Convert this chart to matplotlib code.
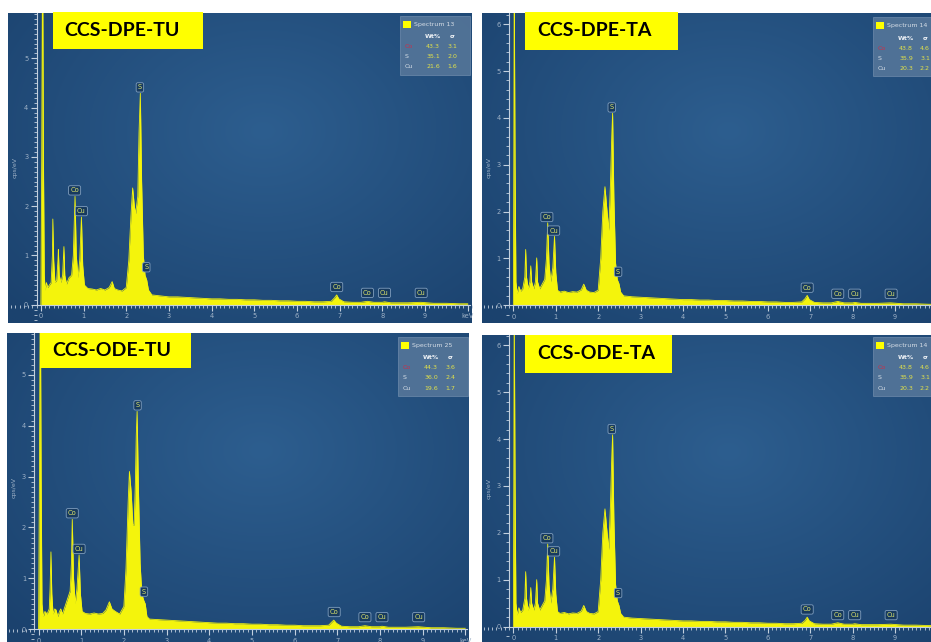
import numpy as np
import matplotlib
matplotlib.use("Agg")
import matplotlib.pyplot as plt
from matplotlib.patches import Rectangle
from matplotlib.ticker import MultipleLocator

# ---- data ----
samples = ["CCS-DPE-TU", "CCS-DPE-TA", "CCS-ODE-TU", "CCS-ODE-TA"]
spectrum_ids = ["Spectrum 13", "Spectrum 14", "Spectrum 25", "Spectrum 14"]
elements = ["Co", "S", "Cu"]

wt_dpe_tu, sig_dpe_tu = [43.3, 35.1, 21.6], [3.1, 2.0, 1.6]
wt_dpe_ta, sig_dpe_ta = [43.8, 35.9, 20.3], [4.6, 3.1, 2.2]
wt_ode_tu, sig_ode_tu = [44.3, 36.0, 19.6], [3.6, 2.4, 1.7]
wt_ode_ta, sig_ode_ta = [43.8, 35.9, 20.3], [4.6, 3.1, 2.2]

peak_names = ["Co", "Cu", "S", "S", "Co", "Co", "Cu", "Cu"]
peak_kev = [0.79, 0.95, 2.32, 2.47, 6.93, 7.65, 8.05, 8.91]

# (keV, cps/eV)
spec_dpe_tu = [
    (0.00, 0.0), (0.02, 3.0), (0.04, 7.5), (0.06, 3.0), (0.08, 0.6), (0.10, 0.30),
    (0.13, 0.45), (0.16, 0.35), (0.20, 0.40), (0.24, 0.45), (0.27, 1.00), (0.28, 1.74),
    (0.30, 0.90), (0.33, 0.45), (0.37, 0.50), (0.40, 0.90), (0.41, 1.12), (0.43, 0.60),
    (0.47, 0.45), (0.51, 0.60), (0.54, 1.18), (0.56, 0.60), (0.60, 0.42), (0.66, 0.55),
    (0.72, 0.60), (0.76, 1.00), (0.80, 2.20), (0.83, 1.00), (0.87, 0.55), (0.91, 0.90),
    (0.95, 1.78), (0.98, 0.80), (1.02, 0.40), (1.10, 0.33), (1.20, 0.32), (1.30, 0.30),
    (1.40, 0.33), (1.50, 0.30), (1.60, 0.35), (1.67, 0.47), (1.72, 0.33), (1.80, 0.30),
    (1.90, 0.28), (2.00, 0.35), (2.06, 0.90), (2.11, 1.80), (2.15, 2.37), (2.19, 2.00),
    (2.22, 1.85), (2.27, 2.20), (2.30, 3.50), (2.33, 4.29), (2.36, 2.50), (2.40, 1.00),
    (2.44, 0.60), (2.48, 0.50), (2.52, 0.30), (2.60, 0.20), (2.80, 0.18), (3.00, 0.16),
    (3.20, 0.16), (3.40, 0.15), (3.60, 0.14), (3.80, 0.13), (4.00, 0.12), (4.20, 0.12),
    (4.40, 0.11), (4.60, 0.11), (4.80, 0.10), (5.00, 0.10), (5.20, 0.09), (5.40, 0.09),
    (5.60, 0.08), (5.80, 0.08), (6.00, 0.07), (6.20, 0.07), (6.40, 0.06), (6.60, 0.06),
    (6.80, 0.07), (6.88, 0.14), (6.93, 0.20), (6.98, 0.12), (7.10, 0.06), (7.30, 0.05),
    (7.50, 0.05), (7.65, 0.07), (7.80, 0.05), (8.00, 0.05), (8.05, 0.06), (8.20, 0.04),
    (8.40, 0.04), (8.60, 0.04), (8.90, 0.05), (9.20, 0.03), (9.50, 0.03), (9.80, 0.02),
    (10.00, 0.02),
]

spec_dpe_ta = [
    (0.00, 0.0), (0.01, 3.0), (0.02, 7.0), (0.04, 3.0), (0.06, 0.5), (0.09, 0.25),
    (0.13, 0.40), (0.17, 0.30), (0.22, 0.35), (0.27, 0.60), (0.29, 1.19), (0.31, 0.60),
    (0.35, 0.35), (0.39, 0.50), (0.41, 0.84), (0.43, 0.50), (0.48, 0.35), (0.52, 0.50),
    (0.55, 1.01), (0.57, 0.50), (0.62, 0.35), (0.68, 0.45), (0.74, 0.55), (0.78, 1.00),
    (0.81, 1.76), (0.84, 0.90), (0.88, 0.50), (0.93, 0.80), (0.97, 1.47), (1.00, 0.70),
    (1.04, 0.32), (1.10, 0.28), (1.20, 0.30), (1.30, 0.27), (1.40, 0.29), (1.50, 0.28),
    (1.60, 0.33), (1.66, 0.45), (1.72, 0.32), (1.80, 0.28), (1.90, 0.27), (2.00, 0.32),
    (2.06, 1.00), (2.11, 2.00), (2.16, 2.53), (2.20, 2.10), (2.25, 1.60), (2.29, 2.60),
    (2.32, 3.60), (2.34, 4.10), (2.37, 2.30), (2.41, 0.90), (2.45, 0.55), (2.49, 0.46),
    (2.53, 0.28), (2.60, 0.20), (2.80, 0.18), (3.00, 0.17), (3.20, 0.16), (3.40, 0.15),
    (3.60, 0.14), (3.80, 0.13), (4.00, 0.12), (4.20, 0.12), (4.40, 0.11), (4.60, 0.11),
    (4.80, 0.10), (5.00, 0.10), (5.20, 0.09), (5.40, 0.09), (5.60, 0.08), (5.80, 0.08),
    (6.00, 0.07), (6.20, 0.07), (6.40, 0.06), (6.60, 0.06), (6.80, 0.07), (6.88, 0.14),
    (6.93, 0.21), (6.98, 0.12), (7.10, 0.06), (7.30, 0.05), (7.50, 0.05), (7.65, 0.08),
    (7.80, 0.05), (8.00, 0.05), (8.05, 0.06), (8.20, 0.04), (8.40, 0.04), (8.60, 0.04),
    (8.90, 0.05), (9.20, 0.03), (9.50, 0.03), (9.80, 0.02), (10.00, 0.02),
]

spec_ode_tu = [
    (0.00, 0.0), (0.02, 3.0), (0.04, 7.0), (0.06, 3.0), (0.08, 0.5), (0.11, 0.25),
    (0.15, 0.35), (0.20, 0.30), (0.25, 0.40), (0.27, 0.80), (0.29, 1.52), (0.31, 0.70),
    (0.34, 0.30), (0.38, 0.40), (0.41, 0.38), (0.45, 0.25), (0.49, 0.35), (0.52, 0.40),
    (0.56, 0.30), (0.62, 0.45), (0.68, 0.60), (0.74, 0.75), (0.77, 1.30), (0.79, 2.16),
    (0.82, 1.00), (0.86, 0.51), (0.90, 0.80), (0.95, 1.46), (0.98, 0.70), (1.02, 0.35),
    (1.10, 0.31), (1.20, 0.30), (1.30, 0.32), (1.40, 0.30), (1.50, 0.31), (1.58, 0.38),
    (1.66, 0.54), (1.72, 0.40), (1.80, 0.35), (1.90, 0.30), (2.00, 0.45), (2.05, 1.20),
    (2.10, 2.50), (2.13, 3.10), (2.17, 2.70), (2.21, 2.05), (2.24, 2.05), (2.27, 2.90),
    (2.29, 3.80), (2.31, 4.28), (2.34, 2.80), (2.38, 1.30), (2.42, 0.70), (2.46, 0.58),
    (2.50, 0.50), (2.54, 0.25), (2.60, 0.20), (2.80, 0.19), (3.00, 0.18), (3.20, 0.17),
    (3.40, 0.16), (3.60, 0.15), (3.80, 0.14), (4.00, 0.13), (4.20, 0.12), (4.40, 0.12),
    (4.60, 0.11), (4.80, 0.11), (5.00, 0.10), (5.20, 0.10), (5.40, 0.09), (5.60, 0.09),
    (5.80, 0.08), (6.00, 0.08), (6.20, 0.07), (6.40, 0.07), (6.60, 0.07), (6.80, 0.08),
    (6.87, 0.14), (6.92, 0.18), (6.98, 0.12), (7.10, 0.06), (7.30, 0.05), (7.50, 0.05),
    (7.65, 0.07), (7.80, 0.05), (8.00, 0.05), (8.05, 0.06), (8.20, 0.04), (8.40, 0.04),
    (8.60, 0.04), (8.90, 0.05), (9.20, 0.03), (9.50, 0.03), (9.80, 0.02), (10.00, 0.02),
]

spec_ode_ta = [
    (0.00, 0.0), (0.01, 3.0), (0.02, 7.0), (0.04, 3.0), (0.06, 0.5), (0.09, 0.25),
    (0.13, 0.40), (0.17, 0.30), (0.22, 0.35), (0.27, 0.60), (0.29, 1.17), (0.31, 0.60),
    (0.35, 0.35), (0.39, 0.50), (0.41, 0.83), (0.43, 0.50), (0.48, 0.35), (0.52, 0.50),
    (0.55, 1.00), (0.57, 0.50), (0.62, 0.35), (0.68, 0.45), (0.74, 0.55), (0.78, 1.00),
    (0.81, 1.76), (0.84, 0.90), (0.88, 0.50), (0.93, 0.80), (0.97, 1.48), (1.00, 0.70),
    (1.04, 0.32), (1.10, 0.28), (1.20, 0.30), (1.30, 0.27), (1.40, 0.29), (1.50, 0.28),
    (1.60, 0.33), (1.66, 0.45), (1.72, 0.32), (1.80, 0.28), (1.90, 0.27), (2.00, 0.32),
    (2.06, 1.00), (2.11, 2.00), (2.16, 2.51), (2.20, 2.10), (2.25, 1.64), (2.29, 2.60),
    (2.32, 3.60), (2.34, 4.09), (2.37, 2.30), (2.41, 0.90), (2.45, 0.55), (2.49, 0.45),
    (2.53, 0.28), (2.60, 0.20), (2.80, 0.18), (3.00, 0.17), (3.20, 0.16), (3.40, 0.15),
    (3.60, 0.14), (3.80, 0.13), (4.00, 0.12), (4.20, 0.12), (4.40, 0.11), (4.60, 0.11),
    (4.80, 0.10), (5.00, 0.10), (5.20, 0.09), (5.40, 0.09), (5.60, 0.08), (5.80, 0.08),
    (6.00, 0.07), (6.20, 0.07), (6.40, 0.06), (6.60, 0.06), (6.80, 0.07), (6.88, 0.13),
    (6.93, 0.20), (6.98, 0.12), (7.10, 0.06), (7.30, 0.05), (7.50, 0.05), (7.65, 0.08),
    (7.80, 0.05), (8.00, 0.05), (8.05, 0.06), (8.20, 0.04), (8.40, 0.04), (8.60, 0.04),
    (8.90, 0.05), (9.20, 0.03), (9.50, 0.03), (9.80, 0.02), (10.00, 0.02),
]

spectra = [spec_dpe_tu, spec_dpe_ta, spec_ode_tu, spec_ode_ta]
wts = [wt_dpe_tu, wt_dpe_ta, wt_ode_tu, wt_ode_ta]
sigs = [sig_dpe_tu, sig_dpe_ta, sig_ode_tu, sig_ode_ta]

# ---- layout (pixels in the 931x642 picture) ----
W, H = 931, 642
panel_px = [(8, 13, 472, 323), (482, 13, 931, 323), (7, 333, 469, 642), (482, 335, 931, 642)]
xlims = [(-0.77, 10.1), (-0.74, 9.85), (-0.74, 10.09), (-0.74, 9.85)]
ylims = [(-0.37, 5.92), (-0.38, 6.24), (-0.25, 5.82), (-0.33, 6.22)]
ytop = [5, 6, 5, 6]
title_px = [(53, 12, 203, 49, 64), (525, 12, 678, 50, 537), (40, 333, 191, 368, 52), (525, 335, 672, 373, 537)]
legend_px = [(400, 16), (873, 17), (398, 337), (873, 337)]

YELLOW = "#f4f40c"
AXCOL = "#c3d0de"
LABCOL = "#9fb2c7"


def fx(x):
    return x / W


def fy(y):
    return 1 - y / H


fig = plt.figure(figsize=(9.31, 6.42), dpi=100, facecolor="white")

gx, gy = np.meshgrid(np.linspace(0, 1, 300), np.linspace(0, 1, 300))
r = np.clip(np.sqrt((gx - 0.55) ** 2 + ((gy - 0.62) * 0.9) ** 2) / 0.75, 0, 1)
c_in = np.array([0x2d, 0x5e, 0x8f]) / 255
c_out = np.array([0x1b, 0x42, 0x6e]) / 255
bg = c_in[None, None, :] * (1 - r[..., None]) + c_out[None, None, :] * r[..., None]

for i in range(4):
    l, t, rr, b = panel_px[i]
    ax = fig.add_axes([fx(l), fy(b), (rr - l) / W, (b - t) / H])
    x0, x1 = xlims[i]
    y0, y1 = ylims[i]
    ax.imshow(bg, extent=[x0, x1, y0, y1], origin="lower", aspect="auto", zorder=0)

    kev = np.array([p[0] for p in spectra[i]])
    cps = np.array([p[1] for p in spectra[i]])
    ax.fill_between(kev, 0, cps, color=YELLOW, lw=0, zorder=2)
    ax.plot(kev, cps, color=YELLOW, lw=0.6, zorder=2)

    ax.set_xlim(x0, x1)
    ax.set_ylim(y0, y1)

    for s in ["top", "right"]:
        ax.spines[s].set_visible(False)
    ax.spines["left"].set_position(("data", -0.1))
    ax.spines["bottom"].set_position(("data", 0))
    ax.spines["left"].set_bounds(0, y1)
    ax.spines["bottom"].set_bounds(-0.1, min(10.05, x1))
    for s in ["left", "bottom"]:
        ax.spines[s].set_color(AXCOL)
        ax.spines[s].set_linewidth(0.8)

    nt = 11 if x1 > 10 else 10
    ax.set_xticks(range(nt))
    ax.set_xticklabels([str(k) for k in range(10)] + ["keV"] * (nt - 10))
    ax.set_yticks(range(ytop[i] + 1))
    ax.xaxis.set_minor_locator(MultipleLocator(0.1))
    ax.yaxis.set_minor_locator(MultipleLocator(0.1 if ytop[i] == 5 else 0.2))
    ax.tick_params(which="major", direction="out", length=4, width=0.8, color=AXCOL,
                   labelsize=4.8, labelcolor=LABCOL, pad=2)
    ax.tick_params(which="minor", direction="out", length=2, width=0.6, color=AXCOL)

    ax.text(0.016, 0.5, "cps/eV", transform=ax.transAxes, rotation=90, fontsize=4.5,
            color=LABCOL, ha="center", va="center")

    # peak labels sit just above the local maximum
    for name, e in zip(peak_names, peak_kev):
        near = (kev > e - 0.035) & (kev < e + 0.035)
        yl = cps[near].max() if near.any() else np.interp(e, kev, cps)
        if yl < 1:
            yl = max(yl, 0.08) + 0.1
        else:
            yl = yl + 0.06
        ax.text(e, yl, name, ha="center", va="bottom", fontsize=4.8, color="#dbe36c", zorder=4,
                bbox=dict(boxstyle="round,pad=0.25", fc="#173a5f", ec="#7f9dbd", lw=0.6))

    # sample title box
    bl, bt, br, bb, tx = title_px[i]
    fig.add_artist(Rectangle((fx(bl), fy(bb)), (br - bl) / W, (bb - bt) / H,
                             transform=fig.transFigure, fc="#ffff00", ec="none", zorder=5))
    fig.text(fx(tx), fy((bt + bb) / 2), samples[i], fontsize=14, fontweight="bold",
             family="Lato", color="black", ha="left", va="center", zorder=6)

    # quant table in the corner
    lx, ly = legend_px[i]
    fig.add_artist(Rectangle((fx(lx), fy(ly + 59)), 70 / W, 59 / H, transform=fig.transFigure,
                             fc="#58789b", ec="#6d8aab", lw=0.6, alpha=0.85, zorder=5))
    fig.add_artist(Rectangle((fx(lx + 3), fy(ly + 12)), 8 / W, 7 / H, transform=fig.transFigure,
                             fc="#ffff00", ec="none", zorder=6))
    fig.text(fx(lx + 14), fy(ly + 8.5), spectrum_ids[i], fontsize=4.5, color="#d5dde6",
             ha="left", va="center", zorder=6)
    fig.text(fx(lx + 33), fy(ly + 21), "Wt%", fontsize=4.5, fontweight="bold", color="#eef2f6",
             ha="center", va="center", zorder=6)
    fig.text(fx(lx + 52), fy(ly + 21), "σ", fontsize=4.5, fontweight="bold", color="#eef2f6",
             ha="center", va="center", zorder=6)
    for j, el in enumerate(elements):
        yy = fy(ly + 31 + 10 * j)
        fig.text(fx(lx + 5), yy, el, fontsize=4.5, color="#c8304a" if el == "Co" else "#d5dde6",
                 ha="left", va="center", zorder=6)
        fig.text(fx(lx + 33), yy, f"{wts[i][j]:.1f}", fontsize=4.5, color="#e2e24a",
                 ha="center", va="center", zorder=6)
        fig.text(fx(lx + 52), yy, f"{sigs[i][j]:.1f}", fontsize=4.5, color="#e2e24a",
                 ha="center", va="center", zorder=6)

plt.savefig("out.png", dpi=100, facecolor="white")
plt.close()
